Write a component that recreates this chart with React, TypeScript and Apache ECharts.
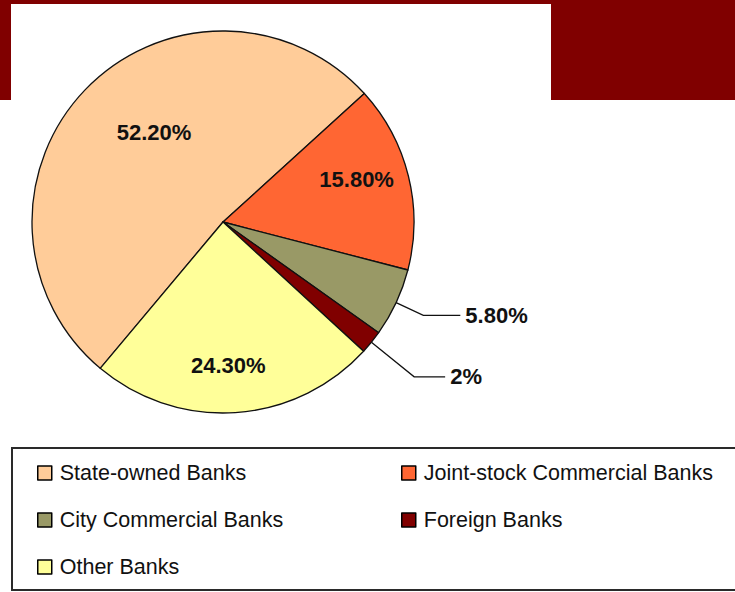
import React, { useEffect, useRef } from "react";
import * as echarts from "echarts";

const categories = [
  "State-owned Banks",
  "Joint-stock Commercial Banks",
  "City Commercial Banks",
  "Foreign Banks",
  "Other Banks",
];
const shares = [52.2, 15.8, 5.8, 2, 24.3];
const labelTexts = ["52.20%", "15.80%", "5.80%", "2%", "24.30%"];
const colors = ["#FFCC99", "#FF6633", "#999966", "#800000", "#FFFF99"];

const legendLeftColumn = ["State-owned Banks", "City Commercial Banks", "Other Banks"];
const legendRightColumn = ["Joint-stock Commercial Banks", "Foreign Banks"];

// label placement tweaks (layout only)
const insideOffsets: Record<number, [number, number]> = {
  0: [2, -21],
  1: [38, -19],
  4: [-1, 45],
};
const outsideLines: Record<number, [number, number]> = {
  2: [30, 37],
  3: [55, 31],
};

export default function App() {
  const ref = useRef<HTMLDivElement>(null);
  useEffect(() => {
    if (!ref.current) return;
    const chart = echarts.init(ref.current, undefined, { renderer: "svg" });
    const data = categories.map((name, i) => {
      const outside = outsideLines[i];
      return {
        name,
        value: shares[i],
        itemStyle: { color: colors[i] },
        label: outside
          ? { position: "outside" as const, formatter: labelTexts[i] }
          : { position: "inside" as const, formatter: labelTexts[i] },
        labelLine: outside
          ? { show: true, length: outside[0], length2: outside[1] }
          : { show: false },
      };
    });
    const legendCommon = {
      orient: "vertical" as const,
      icon: "rect",
      padding: 0,
      itemWidth: 14,
      itemHeight: 14,
      itemGap: 25,
      top: 462,
      selectedMode: false,
      textStyle: {
        fontFamily: "Liberation Sans",
        fontSize: 21.5,
        color: "#111",
        lineHeight: 21,
        padding: [0, 0, 0, 3],
      },
      itemStyle: { borderColor: "#000", borderWidth: 1.5 },
    };
    chart.setOption({
      animation: false,
      backgroundColor: "#ffffff",
      graphic: [
        {
          type: "rect",
          z: -10,
          silent: true,
          shape: { x: 0, y: 0, width: 735, height: 100 },
          style: { fill: "#800000" },
        },
        {
          type: "rect",
          z: -9,
          silent: true,
          shape: { x: 11, y: 4, width: 540, height: 96 },
          style: { fill: "#ffffff" },
        },
        {
          type: "rect",
          z: -8,
          silent: true,
          shape: { x: 12, y: 448, width: 740, height: 142 },
          style: { fill: "#ffffff", stroke: "#2a2a2a", lineWidth: 2 },
        },
      ],
      legend: [
        { ...legendCommon, left: 37, data: legendLeftColumn },
        { ...legendCommon, left: 401, data: legendRightColumn },
      ],
      series: [
        {
          type: "pie",
          center: [223, 222],
          radius: 191,
          startAngle: 230,
          clockwise: true,
          avoidLabelOverlap: false,
          itemStyle: { borderColor: "#111", borderWidth: 1.3 },
          label: {
            show: true,
            fontFamily: "Liberation Sans",
            fontWeight: "bold",
            fontSize: 22,
            color: "#111",
            distanceToLabelLine: 5,
          },
          labelLine: {
            lineStyle: { color: "#111", width: 1.3 },
          },
          labelLayout: (params: any) => {
            const off = insideOffsets[params.dataIndex];
            if (!off) return {};
            return { dx: off[0], dy: off[1] };
          },
          emphasis: { disabled: true },
          data,
        },
      ],
    });
    return () => chart.dispose();
  }, []);
  return (
    <div
      ref={ref}
      style={{ position: "fixed", left: 0, top: 0, width: 735, height: 592 }}
    />
  );
}
